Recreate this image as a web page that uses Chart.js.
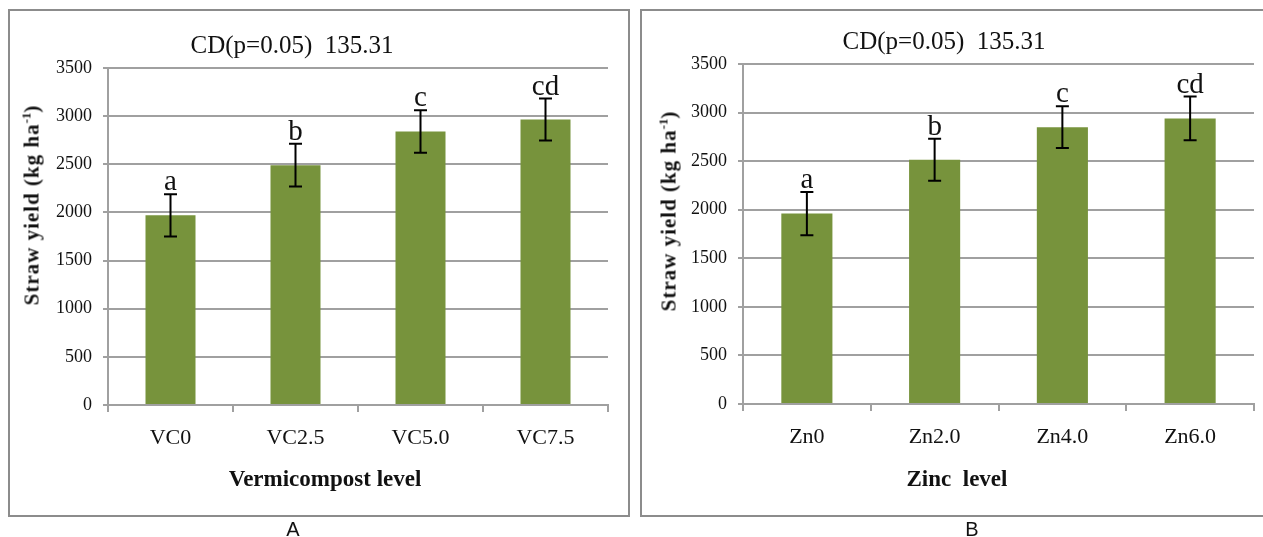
<!DOCTYPE html>
<html>
<head>
<meta charset="utf-8">
<script src="https://cdn.jsdelivr.net/npm/chart.js@4.4.1/dist/chart.umd.min.js"></script>
<style>
  body { margin: 0; background: #fff; overflow: hidden; width: 1263px; height: 537px; position: relative; font-family: "Liberation Serif", "Times New Roman", serif; color: #111; }
  .box { position: absolute; border: 2px solid #8c8c8c; box-sizing: border-box; }
  canvas { position: absolute; }
  .txt { position: absolute; white-space: nowrap; transform: translate(-50%, -50%); line-height: 1; }
  .ytitle { font-weight: bold; font-size: 21px; letter-spacing: 1px; transform: translate(-50%, -50%) rotate(-90deg); }
  .ytitle sup { font-size: 13px; vertical-align: 8px; letter-spacing: 0; }
  .xtitle { font-weight: bold; font-size: 23px; }
  .ctitle { font-size: 25px; }
  .cap { font-family: "Liberation Sans", Arial, sans-serif; font-size: 20px; }
</style>
</head>
<body>
<div class="box" style="left:8px; top:9px; width:622px; height:508px;"></div>
<div class="box" style="left:640px; top:9px; width:660px; height:508px;"></div>

<canvas id="chartA" width="630" height="470" style="left:0; top:0; width:630px; height:470px;"></canvas>
<canvas id="chartB" width="627" height="470" style="left:636px; top:0; width:627px; height:470px;"></canvas>

<div class="txt ctitle" style="left:292px; top:44px;">CD(p=0.05)&nbsp; 135.31</div>
<div class="txt ytitle" style="left:31px; top:205px;">Straw yield (kg ha<sup>-1</sup>)</div>
<div class="txt xtitle" style="left:325px; top:478px;">Vermicompost level</div>
<div class="txt cap" style="left:293px; top:529px;">A</div>

<div class="txt ctitle" style="left:944px; top:40px;">CD(p=0.05)&nbsp; 135.31</div>
<div class="txt ytitle" style="left:668px; top:211px;">Straw yield (kg ha<sup>-1</sup>)</div>
<div class="txt xtitle" style="left:957px; top:478px;">Zinc&nbsp; level</div>
<div class="txt cap" style="left:972px; top:529px;">B</div>

<script>
// vermicompost levels
var vcLevels = ["VC0", "VC2.5", "VC5.0", "VC7.5"];
var vcYield = [1970, 2490, 2840, 2965];
var vcErr = [220, 222, 220, 218];
var vcLetters = ["a", "b", "c", "cd"];

// zinc levels
var znLevels = ["Zn0", "Zn2.0", "Zn4.0", "Zn6.0"];
var znYield = [1960, 2515, 2850, 2940];
var znErr = [222, 216, 214, 225];
var znLetters = ["a", "b", "c", "cd"];

var yTicks = [0, 500, 1000, 1500, 2000, 2500, 3000, 3500];

var gridColor = "#a0a0a0";

// error bars + significance letters on top of the bars
var errorBarPlugin = {
  id: "errorBars",
  afterDatasetsDraw: function (chart, args, opts) {
    var ctx = chart.ctx;
    var meta = chart.getDatasetMeta(0);
    var y = chart.scales.y;
    ctx.save();
    ctx.strokeStyle = "#000";
    ctx.lineWidth = 2;
    meta.data.forEach(function (bar, i) {
      var v = chart.data.datasets[0].data[i];
      var e = opts.errors[i];
      var top = y.getPixelForValue(v + e);
      var bot = y.getPixelForValue(v - e);
      ctx.beginPath();
      ctx.moveTo(bar.x, top);
      ctx.lineTo(bar.x, bot);
      ctx.moveTo(bar.x - 6.5, top);
      ctx.lineTo(bar.x + 6.5, top);
      ctx.moveTo(bar.x - 6.5, bot);
      ctx.lineTo(bar.x + 6.5, bot);
      ctx.stroke();

      ctx.fillStyle = "#111";
      ctx.font = "29px 'Liberation Serif'";
      ctx.textAlign = "center";
      ctx.textBaseline = "alphabetic";
      ctx.fillText(opts.letters[i], bar.x, top - 4);
    });
    ctx.restore();
  },
};

function makeChart(id, labels, values, errors, letters, pad, xHeight) {
  return new Chart(document.getElementById(id), {
    type: "bar",
    data: {
      labels: labels,
      datasets: [
        {
          data: values,
          backgroundColor: "#77933c",
          borderWidth: 0,
          categoryPercentage: 1,
          barPercentage: 0.4,
        },
      ],
    },
    options: {
      responsive: false,
      animation: false,
      layout: { padding: pad },
      plugins: {
        legend: { display: false },
        tooltip: { enabled: false },
        errorBars: { errors: errors, letters: letters },
      },
      scales: {
        x: {
          offset: true,
          grid: {
            offset: true,
            drawOnChartArea: false,
            drawTicks: true,
            tickLength: 7,
            color: gridColor,
            lineWidth: 2,
          },
          border: { display: true, color: gridColor, width: 2 },
          ticks: {
            color: "#111",
            padding: 13,
            font: { family: "Liberation Serif", size: 22 },
          },
          afterFit: function (scale) {
            scale.height = xHeight;
          },
        },
        y: {
          min: 0,
          max: 3500,
          afterBuildTicks: function (scale) {
            scale.ticks = yTicks.map(function (v) {
              return { value: v };
            });
          },
          grid: {
            color: gridColor,
            lineWidth: 2,
            drawTicks: true,
            tickLength: 5,
          },
          border: { display: true, color: gridColor, width: 2 },
          ticks: {
            color: "#111",
            padding: 11,
            font: { family: "Liberation Serif", size: 18 },
            callback: function (v) {
              return String(v);
            },
          },
          afterFit: function (scale) {
            scale.width = pad.yWidth;
          },
        },
      },
    },
    plugins: [errorBarPlugin],
  });
}

makeChart("chartA", vcLevels, vcYield, vcErr, vcLetters,
  { left: 0, right: 22, top: 68, bottom: 0, yWidth: 108 }, 65);
makeChart("chartB", znLevels, znYield, znErr, znLetters,
  { left: 0, right: 9, top: 64, bottom: 0, yWidth: 107 }, 66);
</script>
</body>
</html>
